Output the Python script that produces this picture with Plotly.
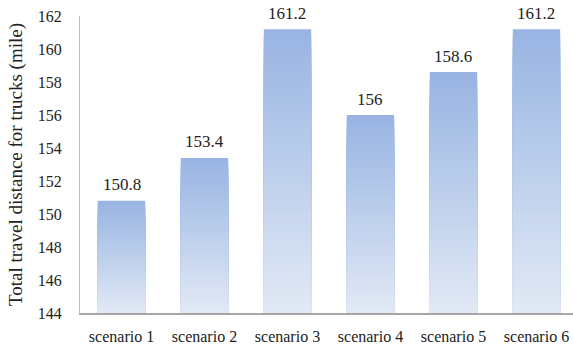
import plotly.graph_objects as go

categories = ["scenario 1", "scenario 2", "scenario 3", "scenario 4", "scenario 5", "scenario 6"]
values = [150.8, 153.4, 161.2, 156, 158.6, 161.2]
value_labels = ["150.8", "153.4", "161.2", "156", "158.6", "161.2"]
y_ticks = [144, 146, 148, 150, 152, 154, 156, 158, 160, 162]

Y_MIN = 144
N_SLICES = 60
top_rgb = (152, 180, 226)
bot_rgb = (226, 233, 245)

fig = go.Figure()
# Overlaid bars from tallest to shortest: each covers base..fraction of value,
# giving a vertical gradient without seams.
for k in range(N_SLICES, 0, -1):
    t = (k - 0.5) / N_SLICES  # 0 bottom -> 1 top
    c = tuple(round(bot_rgb[i] + (top_rgb[i] - bot_rgb[i]) * t) for i in range(3))
    heights = [(v - Y_MIN) * k / N_SLICES for v in values]
    fig.add_trace(go.Bar(
        x=categories, y=heights, base=[Y_MIN] * len(values),
        marker=dict(color="rgb(%d,%d,%d)" % c, line=dict(width=0)),
        width=0.57, showlegend=False, hoverinfo="skip",
    ))

for cat, v, lab in zip(categories, values, value_labels):
    fig.add_annotation(
        x=cat, y=v, text=lab, showarrow=False,
        yanchor="middle", yshift=16,
        font=dict(family="Liberation Serif", size=17, color="#222"),
    )

fig.update_layout(
    barmode="overlay",
    width=573, height=351,
    margin=dict(l=80, r=0, t=16, b=38),
    paper_bgcolor="white", plot_bgcolor="white",
    font=dict(family="Liberation Serif", color="#222"),
    xaxis=dict(
        range=[-0.5, 5.44], showgrid=False, showline=True,
        linecolor="#A6A6A6", linewidth=1.5, ticks="",
        tickfont=dict(size=16), zeroline=False, ticklabelstandoff=8,
    ),
    yaxis=dict(
        range=[144, 162], tickvals=y_ticks, showgrid=False,
        showline=True, linecolor="#BFBFBF", linewidth=1, ticks="",
        tickfont=dict(size=16), zeroline=False, ticklabelstandoff=14,
        title=dict(text="Total travel distance for trucks (mile)",
                   font=dict(size=19), standoff=10),
    ),
)

fig.write_html("out.html")
